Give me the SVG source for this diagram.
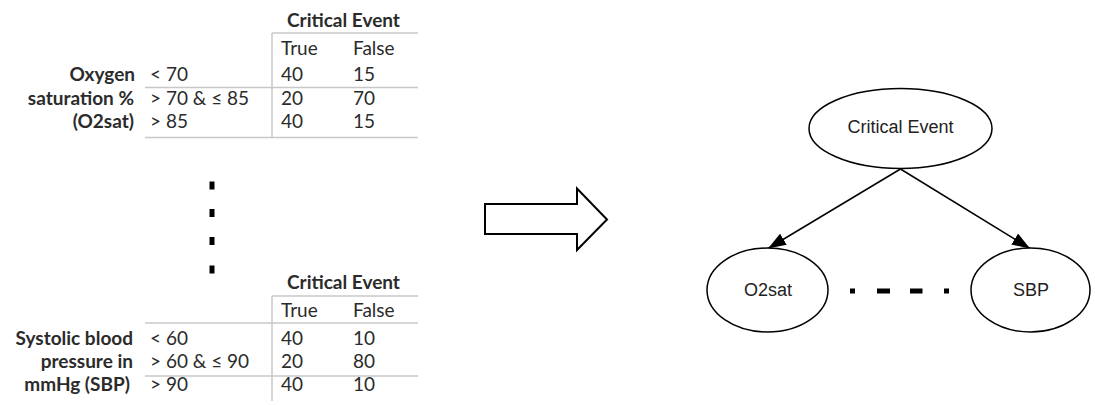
<svg xmlns="http://www.w3.org/2000/svg" width="1095" height="405" viewBox="0 0 1095 405">
<style>
.t{font-family:Lato,"Liberation Sans",sans-serif;font-size:19px;fill:#2b2b2b}
.b{font-weight:bold}
.r{text-anchor:end}
.g{stroke:#c8c8c8;stroke-width:1.5;fill:none}
.n{font-family:"Liberation Sans",Arial,sans-serif;font-size:18px;fill:#222;text-anchor:middle}
.e{fill:#fff;stroke:#000;stroke-width:1.5}
.c{stroke:#000;stroke-width:1.5;fill:none}
</style>
<defs>
<marker id="ah" viewBox="0 0 18 13" refX="18" refY="6.5" markerWidth="18" markerHeight="13" markerUnits="userSpaceOnUse" orient="auto">
<path d="M0,0 L18,6.5 L0,13 z" fill="#000"/>
</marker>
</defs>
<g id="table-o2sat">
<text class="t b" x="287" y="27">Critical Event</text>
<line class="g" x1="272" y1="33" x2="418" y2="33"/>
<line class="g" x1="272" y1="33" x2="272" y2="138"/>
<line class="g" x1="145" y1="87.5" x2="418" y2="87.5"/>
<line class="g" x1="145" y1="137.5" x2="418" y2="137.5"/>
<text class="t" x="281" y="55">True</text>
<text class="t" x="353" y="55">False</text>
<text class="t b r" x="135" y="81">Oxygen</text>
<text class="t b r" x="134" y="105">saturation %</text>
<text class="t b r" x="134" y="128">(O2sat)</text>
<text class="t" x="150" y="81">&lt; 70</text>
<text class="t" x="150" y="105">&gt; 70 &amp; ≤ 85</text>
<text class="t" x="150" y="128">&gt; 85</text>
<text class="t" x="281" y="81">40</text>
<text class="t" x="353" y="81">15</text>
<text class="t" x="281" y="105">20</text>
<text class="t" x="353" y="105">70</text>
<text class="t" x="281" y="128">40</text>
<text class="t" x="353" y="128">15</text>
</g>
<g id="vertical-dots" fill="#000">
<rect x="209.5" y="181.5" width="5" height="8"/>
<rect x="209.5" y="209" width="5" height="8"/>
<rect x="209.5" y="237" width="5" height="8"/>
<rect x="209.5" y="265.5" width="5" height="8"/>
</g>
<g id="table-sbp">
<text class="t b" x="287" y="289">Critical Event</text>
<line class="g" x1="272" y1="296" x2="418" y2="296"/>
<line class="g" x1="272" y1="296" x2="272" y2="401"/>
<line class="g" x1="145" y1="323" x2="418" y2="323"/>
<line class="g" x1="145" y1="376" x2="418" y2="376"/>
<text class="t" x="281" y="317">True</text>
<text class="t" x="353" y="317">False</text>
<text class="t b r" x="133" y="345">Systolic blood</text>
<text class="t b r" x="133" y="368">pressure in</text>
<text class="t b r" x="130" y="391">mmHg (SBP)</text>
<text class="t" x="150" y="345">&lt; 60</text>
<text class="t" x="150" y="368">&gt; 60 &amp; ≤ 90</text>
<text class="t" x="150" y="391">&gt; 90</text>
<text class="t" x="281" y="345">40</text>
<text class="t" x="353" y="345">10</text>
<text class="t" x="281" y="368">20</text>
<text class="t" x="353" y="368">80</text>
<text class="t" x="281" y="391">40</text>
<text class="t" x="353" y="391">10</text>
</g>
<g id="block-arrow">
<path d="M485,204 L577,204 L577,188.5 L607,219.5 L577,250 L577,234 L485,234 Z" fill="#fff" stroke="#000" stroke-width="2" stroke-linejoin="miter"/>
</g>
<g id="connectors">
<line class="c" x1="900.5" y1="169" x2="768" y2="248.5" marker-end="url(#ah)"/>
<line class="c" x1="900.5" y1="169" x2="1030" y2="248.5" marker-end="url(#ah)"/>
<g id="horizontal-dashes" fill="#000">
<rect x="850" y="288.5" width="5" height="5"/>
<rect x="877" y="288.5" width="13" height="5"/>
<rect x="910" y="288.5" width="12.5" height="5"/>
<rect x="944" y="288.5" width="5" height="5"/>
</g>
</g>
<g id="node-critical-event">
<ellipse class="e" cx="900.5" cy="128.5" rx="91.5" ry="40"/>
<text class="n" x="900.5" y="133">Critical Event</text>
</g>
<g id="node-o2sat">
<ellipse class="e" cx="767.5" cy="290" rx="60.5" ry="42"/>
<text class="n" x="768" y="296">O2sat</text>
</g>
<g id="node-sbp">
<ellipse class="e" cx="1030.5" cy="290" rx="59.5" ry="42"/>
<text class="n" x="1031" y="296">SBP</text>
</g>
</svg>
